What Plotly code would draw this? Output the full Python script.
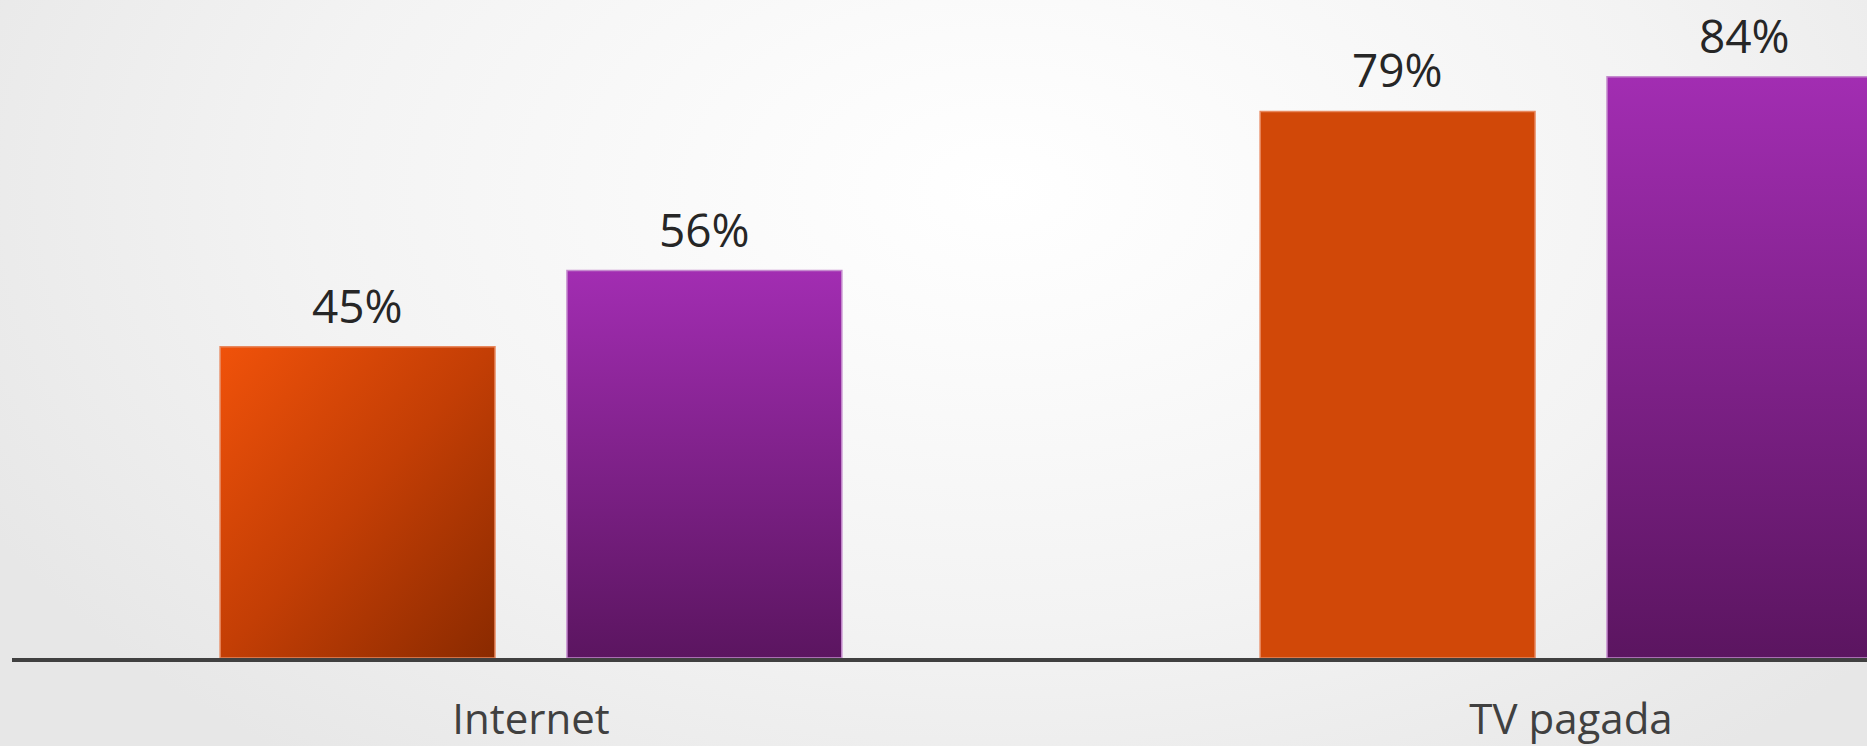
import plotly.graph_objects as go

# ---- data ----
categories = ["Internet", "TV pagada"]
series_orange = [45, 79]
series_purple = [56, 84]

orange_colors = ["#C13F06", "#D14808"]
purple_colors = ["#80228A", "#80228A"]

fig = go.Figure()
fig.add_trace(go.Bar(
    x=categories, y=series_orange,
    marker=dict(color=orange_colors, line=dict(color="#E8885E", width=1.5)),
    hoverinfo="skip", name="A",
))
fig.add_trace(go.Bar(
    x=categories, y=series_purple,
    marker=dict(color=purple_colors, line=dict(color="#C58BCE", width=1.5)),
    hoverinfo="skip", name="B",
))

# value labels, anchored to the data through the axes
label_font = dict(family="Open Sans", size=46, color="#262626")
for vals, dx in ((series_orange, -173.5), (series_purple, 173.5)):
    for cat, v in zip(categories, vals):
        fig.add_annotation(x=cat, y=v, xref="x", yref="y", text=f"{v}%",
                           showarrow=False, xanchor="center", yanchor="bottom",
                           xshift=dx, yshift=9, font=label_font)

fig.update_layout(
    width=1867, height=746,
    margin=dict(l=12, r=0, t=0, b=88, autoexpand=False),
    paper_bgcolor="rgba(0,0,0,0)", plot_bgcolor="rgba(0,0,0,0)",
    barmode="group", bargap=0.333, bargroupgap=0.2075,
    showlegend=False,
    xaxis=dict(type="category", range=[-0.499, 1.2846], automargin=False,
               showline=True, linecolor="#404040", linewidth=3.5,
               ticks="", showgrid=False, zeroline=False,
               tickfont=dict(family="Open Sans", size=42, color="#404040"),
               ticklabelstandoff=22),
    yaxis=dict(range=[0, 95.1], visible=False, showgrid=False, zeroline=False,
               automargin=False),
)

post = r"""
var gd = document.getElementById('{plot_id}');
document.documentElement.style.margin = '0';
document.body.style.margin = '0';
document.body.style.overflow = 'hidden';
document.body.style.background = 'radial-gradient(ellipse 1150px 720px at 1000px 190px, #ffffff 0%, #fbfbfb 22%, #f3f3f3 60%, #e7e7e7 100%)';
(function(){
  var ns = 'http://www.w3.org/2000/svg';
  var svg = gd.querySelector('.main-svg');
  var defs = svg.querySelector('defs');
  if(!defs){ defs = document.createElementNS(ns,'defs'); svg.insertBefore(defs, svg.firstChild); }
  function lg(id, x1, y1, x2, y2, stops){
    var g = document.createElementNS(ns, 'linearGradient');
    g.setAttribute('id', id);
    g.setAttribute('x1', x1); g.setAttribute('y1', y1);
    g.setAttribute('x2', x2); g.setAttribute('y2', y2);
    stops.forEach(function(s){
      var st = document.createElementNS(ns, 'stop');
      st.setAttribute('offset', s[0]);
      st.setAttribute('stop-color', s[1]);
      g.appendChild(st);
    });
    defs.appendChild(g);
  }
  lg('gradOrange', 0, 0, 1, 1, [[0, '#F0520A'], [0.5, '#C33E05'], [1, '#8A2A00']]);
  lg('gradPurple', 0, 0, 0, 1, [[0, '#A22DB2'], [1, '#5B1560']]);
  var traces = gd.querySelectorAll('.barlayer .trace');
  if(traces.length >= 2){
    var o = traces[0].querySelectorAll('.point path');
    if(o.length) o[0].style.fill = 'url(#gradOrange)';
    var p = traces[1].querySelectorAll('.point path');
    p.forEach(function(e){ e.style.fill = 'url(#gradPurple)'; });
  }
})();
"""

fig.write_html("out.html", post_script=post, config={"displayModeBar": False})
